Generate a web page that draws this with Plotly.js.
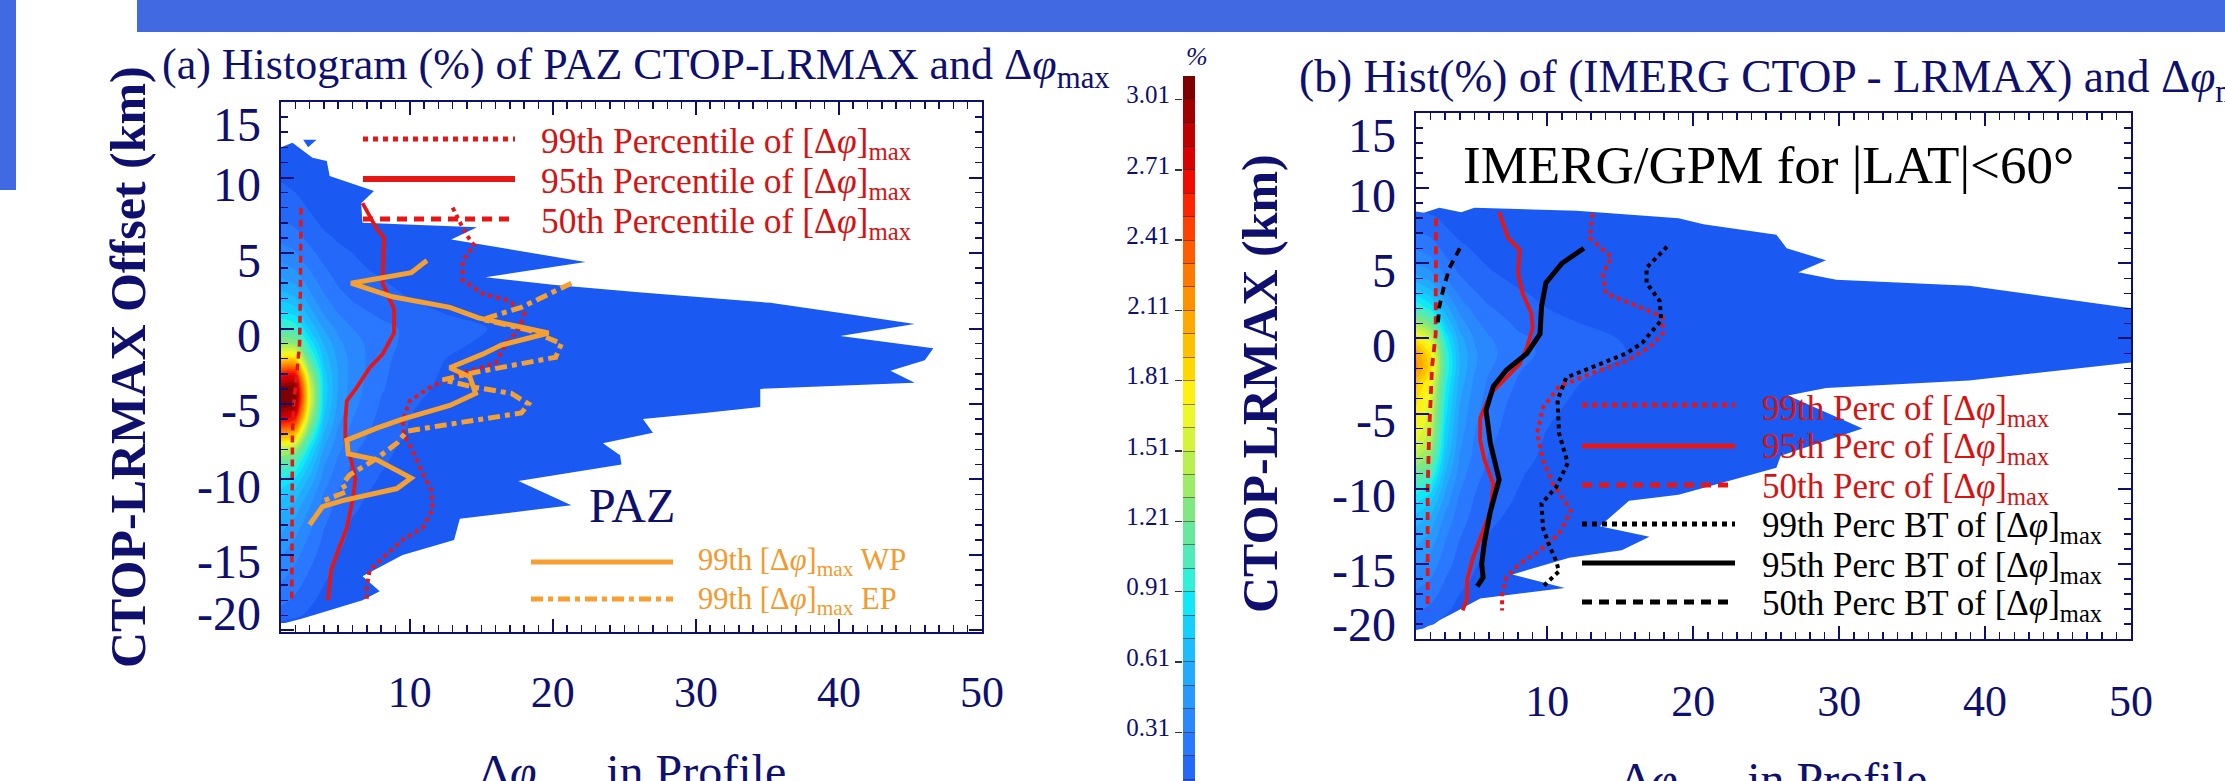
<!DOCTYPE html>
<html><head><meta charset="utf-8">
<script src="https://cdn.plot.ly/plotly-3.0.1.min.js"></script>
<style>html,body{margin:0;padding:0;background:#fff;overflow:hidden}#chart{width:2225px;height:781px}</style>
</head><body><div id="chart"></div>
<script>
const W = 2225, H = 781;
const SERIF = '"Liberation Serif", "Times New Roman", serif';
const NAVY = '#0f0f6e';
const RED = '#e41616';
const ORANGE = '#f5a030';

// ---------- colour levels (%), bottom band 0.01-0.11 ... top band 3.01-3.11 ----------
const levelEdges = [0.01,0.11,0.21,0.31,0.41,0.51,0.61,0.71,0.81,0.91,1.01,1.11,1.21,1.31,1.41,1.51,1.61,1.71,1.81,1.91,2.01,2.11,2.21,2.31,2.41,2.51,2.61,2.71,2.81,2.91,3.01,3.11];
const bandColors = ['#1a5af2','#2468fa','#2a78ff','#2a88ff','#2898ff','#22aaff','#1cbcff','#14d0ff','#10e8f8','#30f0d8',
  '#50ecb8','#68e89c','#80e880','#9cec68','#b8f050','#d4f43c','#ecf828','#fff010','#ffd800','#ffc000',
  '#ffa800','#ff9000','#ff7800','#ff5c00','#ff4000','#ff2400','#f00a00','#d80000','#c00000','#a00000','#800000'];
const cbTickVals = [0.31,0.61,0.91,1.21,1.51,1.81,2.11,2.41,2.71,3.01];
const cbTickText = ['0.31','0.61','0.91','1.21','1.51','1.81','2.11','2.41','2.71','3.01'];

// ---------- axes ----------
const xTickVals = [10,20,30,40,50];
const xTickText = ['10','20','30','40','50'];
const yTickVals = [-20,-15,-10,-5,0,5,10,15];
const yTickText = ['-20','-15','-10','-5','0','5','10','15'];

// ---------- histogram core (% per bin) ----------
const coreX = [1,2,3,4,5,6,8,10,13,16,20];
const coreY = [10,9,8,7,6,5,4,3,2,1,0,-1,-2,-3,-4,-5,-6,-7,-8,-9,-10,-11,-12,-13,-14,-15,-16,-17,-18,-19,-20];
const histPAZ = [
 [0.10,0.08,0.05,0.03,0,0,0,0,0,0,0],
 [0.13,0.11,0.07,0.04,0.02,0,0,0,0,0,0],
 [0.17,0.15,0.10,0.06,0.04,0.02,0,0,0,0,0],
 [0.22,0.19,0.14,0.09,0.06,0.04,0.02,0,0,0,0],
 [0.28,0.25,0.18,0.13,0.10,0.08,0.05,0.03,0,0,0],
 [0.36,0.32,0.24,0.17,0.13,0.11,0.07,0.05,0.03,0,0],
 [0.45,0.40,0.30,0.22,0.16,0.13,0.09,0.06,0.04,0.02,0],
 [0.55,0.50,0.37,0.27,0.20,0.16,0.12,0.08,0.05,0.03,0],
 [0.68,0.62,0.45,0.33,0.25,0.20,0.15,0.11,0.07,0.04,0.02],
 [0.85,0.78,0.56,0.40,0.31,0.25,0.19,0.15,0.10,0.06,0.03],
 [1.05,0.98,0.70,0.50,0.38,0.31,0.24,0.19,0.15,0.10,0.05],
 [1.35,1.30,0.88,0.60,0.44,0.35,0.25,0.18,0.13,0.08,0.04],
 [1.85,1.85,1.10,0.68,0.48,0.37,0.24,0.16,0.10,0.06,0.03],
 [2.60,2.65,1.40,0.75,0.50,0.37,0.23,0.15,0.09,0.05,0.02],
 [3.10,3.10,1.60,0.78,0.50,0.36,0.22,0.14,0.08,0.04,0.02],
 [3.10,3.05,1.60,0.76,0.48,0.34,0.20,0.12,0.07,0.04,0.02],
 [2.75,2.60,1.40,0.70,0.44,0.31,0.18,0.11,0.06,0.03,0.02],
 [2.10,1.95,1.10,0.60,0.38,0.27,0.16,0.10,0.05,0.03,0],
 [1.50,1.35,0.85,0.50,0.33,0.23,0.14,0.08,0.04,0.02,0],
 [1.10,1.00,0.70,0.42,0.28,0.20,0.12,0.07,0.04,0.02,0],
 [0.90,0.80,0.58,0.36,0.24,0.17,0.10,0.06,0.03,0,0],
 [0.75,0.66,0.48,0.30,0.20,0.14,0.08,0.05,0.02,0,0],
 [0.63,0.55,0.40,0.26,0.17,0.12,0.07,0.04,0,0,0],
 [0.55,0.47,0.34,0.22,0.15,0.10,0.06,0.03,0,0,0],
 [0.48,0.40,0.29,0.19,0.13,0.09,0.05,0.02,0,0,0],
 [0.42,0.34,0.25,0.16,0.11,0.07,0.04,0,0,0,0],
 [0.36,0.29,0.21,0.14,0.09,0.06,0.03,0,0,0,0],
 [0.30,0.24,0.17,0.11,0.07,0.05,0,0,0,0,0],
 [0.24,0.19,0.13,0.08,0.05,0.03,0,0,0,0,0],
 [0.17,0.13,0.09,0.05,0.03,0,0,0,0,0,0],
 [0,0,0,0,0,0,0,0,0,0,0]
];
const histIMERG = [
 [0,0,0,0,0,0,0,0,0,0,0],
 [0.06,0.05,0.03,0,0,0,0,0,0,0,0],
 [0.15,0.13,0.09,0.06,0.04,0.03,0.02,0,0,0,0],
 [0.22,0.19,0.13,0.09,0.07,0.05,0.03,0.02,0,0,0],
 [0.30,0.26,0.18,0.13,0.10,0.08,0.05,0.03,0.02,0,0],
 [0.40,0.35,0.24,0.17,0.13,0.10,0.07,0.05,0.03,0.02,0],
 [0.55,0.47,0.32,0.22,0.17,0.13,0.09,0.07,0.04,0.03,0.02],
 [0.78,0.66,0.43,0.29,0.22,0.17,0.12,0.09,0.06,0.04,0.02],
 [1.02,0.88,0.56,0.37,0.28,0.22,0.15,0.11,0.08,0.05,0.03],
 [1.40,1.20,0.72,0.46,0.34,0.27,0.19,0.14,0.10,0.07,0.04],
 [1.80,1.55,0.90,0.55,0.40,0.32,0.23,0.18,0.14,0.09,0.05],
 [2.10,1.80,1.00,0.60,0.43,0.34,0.24,0.19,0.15,0.10,0.06],
 [2.15,1.85,1.02,0.60,0.42,0.32,0.22,0.16,0.12,0.08,0.05],
 [1.95,1.70,0.95,0.56,0.39,0.29,0.20,0.14,0.10,0.07,0.04],
 [1.85,1.60,0.90,0.52,0.36,0.27,0.18,0.13,0.09,0.06,0.04],
 [1.78,1.55,0.85,0.49,0.34,0.25,0.17,0.12,0.08,0.05,0.03],
 [1.72,1.50,0.80,0.46,0.32,0.24,0.16,0.11,0.07,0.05,0.03],
 [1.60,1.40,0.75,0.43,0.30,0.22,0.15,0.10,0.06,0.04,0.02],
 [1.42,1.25,0.68,0.40,0.28,0.20,0.14,0.09,0.05,0.03,0.02],
 [1.20,1.05,0.60,0.36,0.25,0.18,0.12,0.08,0.05,0.03,0.02],
 [0.98,0.86,0.52,0.32,0.22,0.16,0.11,0.07,0.04,0.02,0],
 [0.80,0.70,0.45,0.28,0.20,0.14,0.10,0.06,0.03,0.02,0],
 [0.66,0.58,0.38,0.25,0.18,0.13,0.08,0.05,0.03,0,0],
 [0.57,0.50,0.33,0.22,0.16,0.11,0.07,0.04,0.02,0,0],
 [0.50,0.43,0.29,0.19,0.14,0.10,0.06,0.03,0,0,0],
 [0.43,0.37,0.25,0.17,0.12,0.08,0.05,0.02,0,0,0],
 [0.36,0.31,0.21,0.14,0.10,0.07,0.04,0,0,0,0],
 [0.29,0.25,0.17,0.11,0.08,0.05,0.03,0,0,0,0],
 [0.23,0.19,0.13,0.08,0.06,0.04,0,0,0,0,0],
 [0.16,0.12,0.08,0.05,0.03,0,0,0,0,0,0],
 [0,0,0,0,0,0,0,0,0,0,0]
];

// ---------- outer edge of the >0.01% region ----------
const envPAZx = [1,1.8,3.2,4.2,4.4,7.5,6.6,6.7,14.7,12.9,22.3,15.3,20.0,26,35.2,39.9,45.3,40.1,46.6,46.0,43.6,45.3,34.5,34.5,30.6,26.3,27.0,23.5,24.7,24.8,17.6,21.3,13.5,13.1,9.5,6.7,7.9,6.7,2.5,1.3,1];
const envPAZy = [12.0,12.3,11.3,11.1,10.1,9.1,8.3,7.0,6.7,5.9,4.4,3.4,2.9,2.4,1.7,1.06,0.3,-0.5,-1.3,-2.1,-2.8,-3.6,-4.0,-5.2,-5.6,-6.0,-6.9,-7.6,-8.4,-9.0,-10.1,-11.7,-12.6,-14.0,-15.0,-16.4,-17.4,-18.0,-19.2,-19.5,-19.5];
const blobPAZx = [2.55,3.48,2.9];
const blobPAZy = [12.5,12.5,12.0];
const envIMx = [1,2.6,4.1,5.0,12,19.0,20.7,25.7,26.4,29.1,27.2,29.8,38.9,50,50,38.9,29.1,26.5,31.6,26.0,25.7,19.0,15.6,13.6,17.0,15.1,11.5,7.6,11.2,5.4,3.5,1.5,1];
const envIMy = [8.2,8.7,8.4,8.7,8.5,8.0,7.6,6.9,6.0,5.2,4.4,3.9,3.5,2.0,-1.6,-2.8,-3.3,-3.8,-6.0,-7.8,-8.6,-10.4,-10.8,-12.5,-13.2,-14.1,-14.6,-15.7,-16.6,-17.3,-18.3,-19.3,-19.4];

// ---------- percentile profiles, panel (a) PAZ ----------
const pazP50x = [2.4,2.4,2.35,2.3,2.1,1.9,1.8,1.8,1.8,1.8,1.75];
const pazP50y = [8.0,5,2,-1,-3,-5,-7,-10,-13,-16,-18.1];
const pazP95x = [6.7,7.7,8.2,8.1,8.9,8.9,8.1,7.2,6.3,5.6,5.5,5.5,5.9,6.2,6.0,5.6,5.0,4.5,4.4,4.3];
const pazP95y = [8.3,6.6,6.0,3.0,1.3,-0.3,-1.7,-2.6,-3.9,-4.8,-6.0,-7.4,-8.7,-10.0,-11.4,-13.2,-14.7,-16.0,-16.9,-18.0];
const pazP99x = [13.0,13.9,14.5,13.7,13.7,15.1,16.9,18.0,17.6,16.7,16.0,13.5,11.4,10.0,9.5,9.6,10.2,10.9,11.5,11.6,10.9,9.5,8.1,7.2,7.0,7.0];
const pazP99y = [8.0,6.3,5.5,4.5,3.2,2.3,1.85,1.0,-0.1,-1.0,-2.3,-3.0,-3.9,-4.8,-6.1,-7.0,-8.1,-9.6,-10.7,-12.0,-13.2,-14.0,-15.2,-16.0,-17.1,-18.0];
const pazWPx = [11.2,10.1,5.9,8.8,12.8,14.8,19.7,16.4,15.1,12.8,14.2,14.6,12.8,9.5,7.7,5.6,5.7,7.7,10.1,9.1,5.3,3.9,3.0];
const pazWPy = [4.5,3.7,3.0,2.1,1.4,0.7,-0.3,-1.1,-1.7,-2.6,-3.2,-4.3,-5.1,-6.0,-6.6,-7.4,-8.3,-8.7,-9.9,-10.6,-11.4,-11.8,-13.0];
const pazEPx = [21.3,17.8,15.1,18.3,20.6,20.2,14.6,12.3,14.6,17.1,18.3,17.8,13.7,9.8,9.1,7.7,5.8,5.3,5.6,4.0];
const pazEPy = [3.0,1.4,0.6,-0.1,-1.0,-1.9,-2.9,-3.4,-3.9,-4.3,-5.0,-5.6,-6.2,-6.8,-7.6,-8.6,-9.7,-10.3,-10.8,-11.4];

// ---------- percentile profiles, panel (b) IMERG ----------
const imP50x = [2.37,2.37,2.37,2.35,2.1,1.9,1.8,1.8,1.8];
const imP50y = [8.0,5,2,0.3,-1.9,-6.3,-10,-14,-18.1];
const imP95x = [6.7,7.3,8.1,8.0,8.3,8.9,9.0,8.6,8.1,7.2,6.1,5.4,5.4,5.7,6.3,6.1,5.5,4.9,4.5,4.5,4.2];
const imP95y = [8.4,6.7,5.9,4.3,3.0,1.7,0.7,-0.6,-1.7,-2.6,-3.7,-5.3,-6.8,-8.1,-9.7,-11.5,-13.0,-14.6,-16.1,-17.3,-18.1];
const imP99x = [13.1,12.9,14.4,13.8,14.0,16.3,17.9,17.9,17.0,15.4,13.1,10.8,9.7,9.3,9.7,10.4,11.3,11.6,10.8,9.5,8.1,7.2,6.9,6.9];
const imP99y = [8.3,6.7,5.4,4.3,3.0,2.1,1.4,0.3,-0.6,-1.5,-2.3,-3.2,-4.6,-6.3,-8.1,-9.7,-11.0,-11.5,-13.0,-14.1,-15.0,-15.9,-17.0,-18.1];
const btP95x = [12.5,11.0,9.9,9.6,9.5,8.6,7.2,6.3,5.8,6.1,6.5,6.7,6.1,5.7,5.5,5.6,5.2];
const btP95y = [6.0,5.0,3.7,2.1,0.3,-1.0,-2.1,-3.2,-4.8,-7.0,-8.6,-9.4,-11.5,-13.5,-15.0,-15.9,-16.5];
const btP99x = [18.2,16.8,16.8,17.7,17.8,16.5,15.4,13.1,11.3,10.7,10.8,11.4,10.6,9.6,9.7,10.1,10.6,10.8,10.1,9.6];
const btP99y = [6.1,4.7,3.7,2.5,1.2,-0.3,-1.0,-1.9,-2.6,-4.1,-6.3,-8.3,-9.9,-11.0,-12.6,-13.7,-14.8,-15.5,-16.1,-16.6];
const btP50x = [4.0,3.3,2.9,2.6,2.5];
const btP50y = [6.0,4.7,3.4,2.1,1.0];

// ---------- legend texts ----------
const PHI = 'Δ<i>φ</i>';
const legA = ['99th Percentile of ['+PHI+']<sub>max</sub>','95th Percentile of ['+PHI+']<sub>max</sub>','50th Percentile of ['+PHI+']<sub>max</sub>'];
const legA2 = ['99th ['+PHI+']<sub>max</sub> WP','99th ['+PHI+']<sub>max</sub> EP'];
const legB = ['99th Perc of ['+PHI+']<sub>max</sub>','95th Perc of ['+PHI+']<sub>max</sub>','50th Perc of ['+PHI+']<sub>max</sub>',
              '99th Perc BT of ['+PHI+']<sub>max</sub>','95th Perc BT of ['+PHI+']<sub>max</sub>','50th Perc BT of ['+PHI+']<sub>max</sub>'];

// ================= building =================
const px = v => v / W;
const py = v => 1 - v / H;
const pathOf = (xs, ys) => 'M' + xs.map((x, i) => x + ',' + ys[i]).join('L') + 'Z';

const coreScale = [[0, 'rgba(0,0,0,0)']];
for (let k = 1; k < bandColors.length; k++) coreScale.push([k / (bandColors.length - 1), bandColors[k]]);
const cbScale = bandColors.map((c, k) => [k / (bandColors.length - 1), c]);

function core(z, xa, ya) {
  return {type: 'contour', x: coreX, y: coreY, z: z, xaxis: xa, yaxis: ya, autocontour: false,
    contours: {start: 0.11, end: 3.015, size: 0.1, coloring: 'fill', showlines: false},
    colorscale: coreScale, showscale: false, line: {width: 0, smoothing: 1}, hoverinfo: 'skip'};
}
function prof(xs, ys, color, width, dash, xa, ya) {
  return {type: 'scatter', mode: 'lines', x: xs, y: ys, xaxis: xa, yaxis: ya,
    line: {color: color, width: width, dash: dash}, hoverinfo: 'skip', showlegend: false};
}

const traces = [
  core(histPAZ, 'x', 'y'),
  core(histIMERG, 'x2', 'y2'),
  {type: 'heatmap', x: [0, 1], y: levelEdges, z: bandColors.map((c, k) => [k]), zmin: 0, zmax: bandColors.length - 1,
   colorscale: cbScale, showscale: false, xaxis: 'x3', yaxis: 'y3', hoverinfo: 'skip'},
  prof(pazP50x, pazP50y, RED, 3.5, '7px,5px', 'x', 'y'),
  prof(pazP95x, pazP95y, RED, 3.8, 'solid', 'x', 'y'),
  prof(pazP99x, pazP99y, RED, 4, 'dot', 'x', 'y'),
  prof(pazWPx, pazWPy, ORANGE, 5, 'solid', 'x', 'y'),
  prof(pazEPx, pazEPy, ORANGE, 5, '12px,5px,5px,5px', 'x', 'y'),
  prof(imP50x, imP50y, RED, 3.8, '8px,6px', 'x2', 'y2'),
  prof(imP95x, imP95y, RED, 3.8, 'solid', 'x2', 'y2'),
  prof(imP99x, imP99y, RED, 4, 'dot', 'x2', 'y2'),
  prof(btP99x, btP99y, '#000000', 4, 'dot', 'x2', 'y2'),
  prof(btP95x, btP95y, '#000000', 5, 'solid', 'x2', 'y2'),
  prof(btP50x, btP50y, '#000000', 3.8, '8px,6px', 'x2', 'y2')
];

function axis(extra) {
  return Object.assign({
    showline: true, linecolor: NAVY, linewidth: 2, mirror: 'ticks', ticks: 'inside', ticklen: 13, tickwidth: 2,
    tickcolor: NAVY, showgrid: false, zeroline: false, tickmode: 'array', layer: 'above traces',
    minor: {tickmode: 'linear', tick0: 0, dtick: 1, ticks: 'inside', ticklen: 7, tickwidth: 1.5, tickcolor: NAVY, showgrid: false}
  }, extra);
}
const xFont = {family: SERIF, size: 44, color: NAVY};
const yFont = {family: SERIF, size: 48, color: NAVY};

const shapes = [
  {type: 'rect', xref: 'paper', yref: 'paper', x0: px(137), x1: 1, y0: py(32), y1: 1, fillcolor: '#4169e1', line: {width: 0}, layer: 'below'},
  {type: 'rect', xref: 'paper', yref: 'paper', x0: 0, x1: px(16), y0: py(190), y1: 1, fillcolor: '#4169e1', line: {width: 0}, layer: 'below'},
  {type: 'path', xref: 'x', yref: 'y', path: pathOf(envPAZx, envPAZy), fillcolor: bandColors[0], line: {width: 0}, layer: 'below'},
  {type: 'path', xref: 'x', yref: 'y', path: pathOf(blobPAZx, blobPAZy), fillcolor: bandColors[0], line: {width: 0}, layer: 'below'},
  {type: 'path', xref: 'x2', yref: 'y2', path: pathOf(envIMx, envIMy), fillcolor: bandColors[0], line: {width: 0}, layer: 'below'}
];
function legLine(x0, x1, y, color, width, dash) {
  shapes.push({type: 'line', xref: 'paper', yref: 'paper', x0: px(x0), x1: px(x1), y0: py(y), y1: py(y),
    line: {color: color, width: width, dash: dash}, layer: 'above'});
}
legLine(363, 515, 139, RED, 5, 'dot');
legLine(363, 515, 179, RED, 6, 'solid');
legLine(363, 515, 219, RED, 5, '10px,7px');
legLine(531, 673, 562, ORANGE, 5, 'solid');
legLine(531, 673, 599, ORANGE, 5, '12px,5px,5px,5px');
legLine(1582, 1735, 405, RED, 5, 'dot');
legLine(1582, 1735, 446, RED, 5, 'solid');
legLine(1582, 1735, 485, RED, 5, '10px,7px');
legLine(1582, 1735, 524, '#000', 5, 'dot');
legLine(1582, 1735, 563, '#000', 5, 'solid');
legLine(1582, 1735, 602, '#000', 5, '10px,7px');

const annotations = [];
function note(text, x, y, o) {
  annotations.push(Object.assign({text: text, xref: 'paper', yref: 'paper', x: px(x), y: py(y), showarrow: false,
    xanchor: 'left', yanchor: 'top', font: {family: SERIF, size: 34, color: NAVY}}, o || {}));
}
note('(a) Histogram (%) of PAZ CTOP-LRMAX and ' + PHI + '<sub>max</sub>', 160, 38, {font: {family: SERIF, size: 44, color: NAVY}});
note('(b) Hist(%) of (IMERG CTOP - LRMAX) and ' + PHI + '<sub>max</sub>', 1297, 49, {font: {family: SERIF, size: 45.5, color: NAVY}});
note('<b>CTOP-LRMAX Offset (km)</b>', 128, 367, {textangle: -90, xanchor: 'center', yanchor: 'middle', font: {family: SERIF, size: 50, color: NAVY}});
note('<b>CTOP-LRMAX (km)</b>', 1260, 384, {textangle: -90, xanchor: 'center', yanchor: 'middle', font: {family: SERIF, size: 50, color: NAVY}});
note(PHI + '<sub>max</sub> in Profile', 632, 743, {xanchor: 'center', font: {family: SERIF, size: 48, color: NAVY}});
note(PHI + '<sub>max</sub> in Profile', 1773, 751, {xanchor: 'center', font: {family: SERIF, size: 48, color: NAVY}});
note('PAZ', 587, 477, {font: {family: SERIF, size: 48, color: NAVY}});
note('IMERG/GPM for |LAT|&lt;60°', 1461, 134, {font: {family: SERIF, size: 53, color: '#000'}});
note('<i>%</i>', 1197, 40, {xanchor: 'center', font: {family: SERIF, size: 26, color: NAVY}});
[119, 159, 199].forEach((t, i) => note(legA[i], 539, t, {font: {family: SERIF, size: 35.5, color: '#d41414'}}));
[541, 580].forEach((t, i) => note(legA2[i], 696, t, {font: {family: SERIF, size: 30.5, color: '#f29a2e'}}));
[387, 425, 465, 504, 544, 582].forEach((t, i) => note(legB[i], 1760, t, {font: {family: SERIF, size: 35, color: i < 3 ? '#d41414' : '#000'}}));

// y tick labels: placed on the axis scale, nudged inside at the two ends like the original
function yLabels(yref, rightPx, topShift, bottomShift) {
  yTickVals.forEach((v, i) => {
    const shift = v === 15 ? topShift : (v === -20 ? bottomShift : -7);
    annotations.push({text: yTickText[i], xref: 'paper', x: px(rightPx), xanchor: 'right', yref: yref, y: v,
      yanchor: 'middle', yshift: shift, showarrow: false, font: yFont});
  });
}
yLabels('y', 263, -22, 17);
yLabels('y2', 1398, -22, 15);

const layout = {
  width: W, height: H, margin: {l: 0, r: 0, t: 0, b: 0}, paper_bgcolor: '#fff', plot_bgcolor: 'rgba(0,0,0,0)',
  showlegend: false,
  xaxis: axis({domain: [px(281), px(982)], range: [1, 50], tickvals: xTickVals, ticktext: xTickText, tickfont: xFont, ticklabelstandoff: 20, anchor: 'y'}),
  yaxis: axis({domain: [py(632), py(102)], range: [-20.1, 15], tickvals: yTickVals, ticktext: yTickText, showticklabels: false, anchor: 'x'}),
  xaxis2: axis({domain: [px(1416), px(2131)], range: [1, 50], tickvals: xTickVals, ticktext: xTickText, tickfont: xFont, ticklabelstandoff: 22, anchor: 'y2'}),
  yaxis2: axis({domain: [py(639), py(113)], range: [-20, 15], tickvals: yTickVals, ticktext: yTickText, showticklabels: false, anchor: 'x2'}),
  xaxis3: {domain: [px(1183), px(1195)], range: [0, 1], visible: false, anchor: 'y3', fixedrange: true},
  yaxis3: {domain: [0, py(76)], range: [0.102, 3.11], anchor: 'x3', side: 'left', showline: false, showgrid: false, zeroline: false,
    tickmode: 'array', tickvals: cbTickVals, ticktext: cbTickText, ticks: 'outside', ticklen: 7, tickwidth: 1.5, tickcolor: '#333',
    tickfont: {family: SERIF, size: 25, color: NAVY}, ticklabelshift: -5, layer: 'above traces',
    minor: {tickmode: 'linear', tick0: 0.01, dtick: 0.1, ticks: 'inside', ticklen: 12, tickwidth: 1, tickcolor: 'rgba(60,30,30,0.55)', showgrid: false}},
  shapes: shapes,
  annotations: annotations
};

Plotly.newPlot('chart', traces, layout, {displayModeBar: false, staticPlot: true});
</script>
</body></html>
